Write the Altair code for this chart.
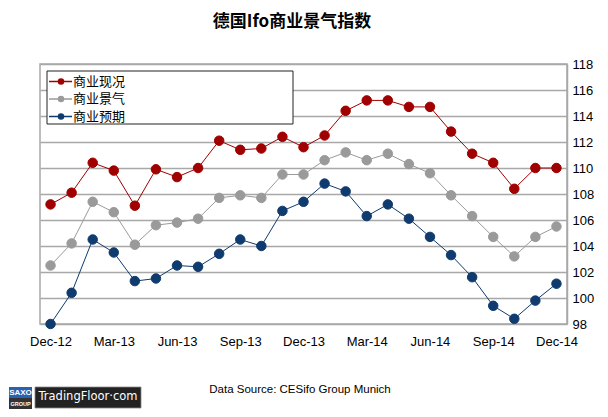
import altair as alt
import pandas as pd

months = ["Dec-12", "Jan-13", "Feb-13", "Mar-13", "Apr-13", "May-13", "Jun-13",
          "Jul-13", "Aug-13", "Sep-13", "Oct-13", "Nov-13", "Dec-13",
          "Jan-14", "Feb-14", "Mar-14", "Apr-14", "May-14", "Jun-14",
          "Jul-14", "Aug-14", "Sep-14", "Oct-14", "Nov-14", "Dec-14"]
tick_labels = ["Dec-12", "Mar-13", "Jun-13", "Sep-13", "Dec-13",
               "Mar-14", "Jun-14", "Sep-14", "Dec-14"]

current = [107.2, 108.1, 110.4, 109.8, 107.1, 109.9, 109.3, 110.0, 112.1, 111.4,
           111.5, 112.4, 111.6, 112.5, 114.4, 115.2, 115.2, 114.7, 114.7, 112.8,
           111.1, 110.4, 108.4, 110.0, 110.0]
climate = [102.5, 104.2, 107.4, 106.6, 104.1, 105.6, 105.8, 106.1, 107.7, 107.9,
           107.7, 109.5, 109.5, 110.6, 111.2, 110.6, 111.1, 110.3, 109.6, 107.9,
           106.3, 104.7, 103.2, 104.7, 105.5]
expect = [98.0, 100.4, 104.5, 103.5, 101.3, 101.5, 102.5, 102.4, 103.4, 104.5,
          104.0, 106.7, 107.4, 108.8, 108.2, 106.3, 107.2, 106.1, 104.7, 103.3,
          101.6, 99.4, 98.4, 99.8, 101.1]

series_names = ["商业现况", "商业景气", "商业预期"]
series_colors = ["#a00000", "#9a9a9a", "#0f3b6e"]

rows = []
for name, vals in zip(series_names, [current, climate, expect]):
    for m, v in zip(months, vals):
        rows.append({"month": m, "series": name, "value": v})
df = pd.DataFrame(rows)

FONT = "Liberation Sans"
CJK = "Noto Sans CJK SC"

x_enc = alt.X("month:O", sort=months,
              scale=alt.Scale(type="point", padding=0.5),
              axis=alt.Axis(values=tick_labels, title=None, domain=False, ticks=False,
                            grid=False, labelAngle=0, labelFont=FONT, labelFontSize=13,
                            labelColor="#000000", labelPadding=11))
y_enc = alt.Y("value:Q",
              scale=alt.Scale(domain=[98, 118], nice=False, zero=False),
              axis=alt.Axis(orient="right", values=list(range(98, 119, 2)), title=None,
                            grid=True, gridColor="#a8a8a8", gridWidth=1.5,
                            domainColor="#a8a8a8", domainWidth=1.5, tickSize=0,
                            labelPadding=5, labelFont=FONT, labelFontSize=13,
                            labelColor="#000000"))

col_scale = alt.Scale(domain=series_names, range=series_colors)

base = alt.Chart(df)

lines = base.mark_line(strokeWidth=1).encode(
    x=x_enc, y=y_enc,
    color=alt.Color("series:N", scale=col_scale, legend=None),
    detail="series:N",
)

points = base.mark_point(filled=True, shape="circle", size=90, strokeWidth=1,
                         opacity=1).encode(
    x=x_enc, y=y_enc,
    fill=alt.Fill("series:N", scale=col_scale, legend=None),
    stroke=alt.Stroke("series:N", scale=col_scale, legend=None),
)

dummy = pd.DataFrame({"d": [0]})

legend_box = alt.Chart(dummy).mark_rect(fill="white", stroke="#222222",
                                        strokeWidth=1).encode(
    x=alt.value(7), x2=alt.value(253), y=alt.value(7), y2=alt.value(60))

legend_layers = []
row_y = [17.5, 35, 52.5]
for name, colr, yy in zip(series_names, series_colors, row_y):
    legend_layers.append(alt.Chart(dummy).mark_rule(color=colr, strokeWidth=1.5).encode(
        x=alt.value(9), x2=alt.value(32), y=alt.value(yy)))
    legend_layers.append(alt.Chart(dummy).mark_point(filled=True, shape="circle", size=42,
                                                     color=colr, opacity=1).encode(
        x=alt.value(21), y=alt.value(yy)))
    legend_layers.append(alt.Chart(dummy).mark_text(text=name, font=CJK, fontSize=13,
                                                    color="#000000", align="left",
                                                    baseline="middle").encode(
        x=alt.value(33), y=alt.value(yy)))

title = alt.Chart(dummy).mark_text(text="德国Ifo商业景气指数", font=CJK, fontSize=17,
                                   fontWeight="bold", color="#000000",
                                   align="center", baseline="middle").encode(
    x=alt.value(252), y=alt.value(-42))

source = alt.Chart(dummy).mark_text(text="Data Source: CESifo Group Munich",
                                    font=FONT, fontSize=11.5, color="#000000",
                                    align="center", baseline="middle").encode(
    x=alt.value(260), y=alt.value(326))

saxo_top = alt.Chart(dummy).mark_rect(fill="#2a62b0").encode(
    x=alt.value(-31), x2=alt.value(-8), y=alt.value(323), y2=alt.value(334))
saxo_bot = alt.Chart(dummy).mark_rect(fill="#333333").encode(
    x=alt.value(-31), x2=alt.value(-8), y=alt.value(334), y2=alt.value(345))
saxo_t1 = alt.Chart(dummy).mark_text(text="SAXO", font=FONT, fontSize=8,
                                     fontWeight="bold", color="white",
                                     align="center", baseline="middle").encode(
    x=alt.value(-19.5), y=alt.value(329))
saxo_t2 = alt.Chart(dummy).mark_text(text="GROUP", font=FONT, fontSize=5.5,
                                     fontWeight="bold", color="white",
                                     align="center", baseline="middle").encode(
    x=alt.value(-19.5), y=alt.value(340))
tf_box = alt.Chart(dummy).mark_rect(fill="#222222", stroke="#888888",
                                    strokeWidth=0.8).encode(
    x=alt.value(-5), x2=alt.value(101), y=alt.value(323), y2=alt.value(344))
tf_text = alt.Chart(dummy).mark_text(text="TradingFloor·com", font="DejaVu Sans",
                                     fontSize=11.5, color="white",
                                     align="center", baseline="middle").encode(
    x=alt.value(48), y=alt.value(333))

chart = alt.layer(
    lines, points, legend_box, *legend_layers, title, source,
    saxo_top, saxo_bot, saxo_t1, saxo_t2, tf_box, tf_text,
).properties(
    width=527, height=260,
    padding={"left": 32, "top": 56, "right": 33, "bottom": 85},
    autosize=alt.AutoSizeParams(type="none"),
    background="white",
).configure_view(stroke="#a8a8a8", strokeWidth=1.5)

chart.save("out.html", embed_options={"renderer": "svg", "actions": False})
